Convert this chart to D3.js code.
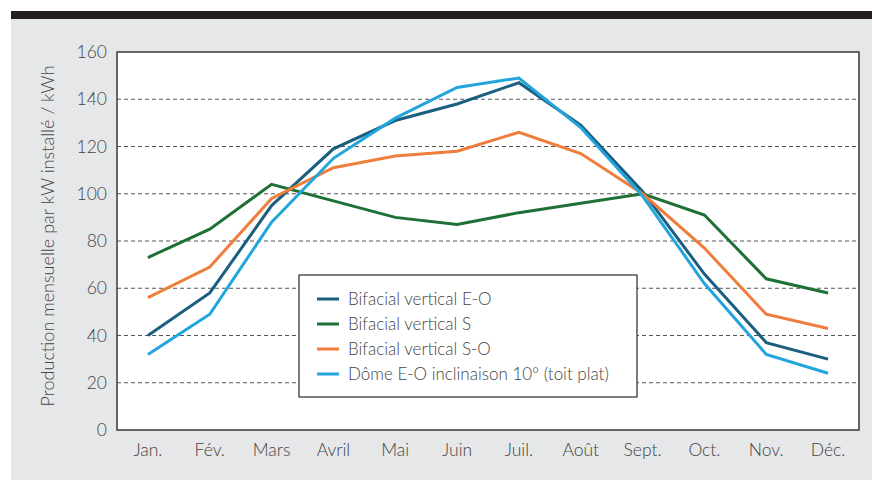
<!DOCTYPE html>
<html>
<head>
<meta charset="utf-8">
<script src="https://cdn.jsdelivr.net/npm/d3@7"></script>
<style>
  body { margin: 0; background: #fff; }
  text { font-family: Lato, "Open Sans", sans-serif; font-weight: 300; fill: #444; }
</style>
</head>
<body>
<script>
///////////////////   Data   /////////////////
var months = ["Jan.", "Fév.", "Mars", "Avril", "Mai", "Juin", "Juil.", "Août", "Sept.", "Oct.", "Nov.", "Déc."];
var seriesNames = ["Bifacial vertical E-O", "Bifacial vertical S", "Bifacial vertical S-O", "Dôme E-O inclinaison 10° (toit plat)"];
var bifacialEO = [40, 58, 95, 119, 131, 138, 147, 129, 101, 66, 37, 30];
var bifacialS  = [73, 85, 104, 97, 90, 87, 92, 96, 100, 91, 64, 58];
var bifacialSO = [56, 69, 98, 111, 116, 118, 126, 117, 100, 77, 49, 43];
var domeEO     = [32, 49, 88, 115, 132, 145, 149, 128, 99, 62, 32, 24];
var yTicks = [0, 20, 40, 60, 80, 100, 120, 140, 160];
var yTitle = "Production mensuelle par kW installé / kWh";

////////////////   Parameters   //////////////
var W = 872, H = 481,
    plot = {left: 117, top: 52, right: 859, bottom: 430},
    colors = ["#1b5f80", "#1e7036", "#ef7d3c", "#22a5dc"];

var svg = d3.select("body").append("svg")
    .attr("width", W)
    .attr("height", H);

// background panel + top bar
svg.append("rect").attr("x", 11).attr("y", 18).attr("width", W - 11).attr("height", H - 19).attr("fill", "#e6e7e8");
svg.append("rect").attr("x", 11).attr("y", 11).attr("width", W - 11).attr("height", 8).attr("fill", "#231f20");

var x = d3.scaleBand().domain(months).range([plot.left, plot.right]);
var y = d3.scaleLinear().domain([0, 160]).range([plot.bottom, plot.top]);

svg.append("rect")
    .attr("x", plot.left).attr("y", plot.top)
    .attr("width", plot.right - plot.left).attr("height", plot.bottom - plot.top)
    .attr("fill", "#fff");

// dashed grid
svg.append("g").selectAll("line")
    .data(yTicks.filter(function(d){ return d > 0 && d < 160; }))
  .enter().append("line")
    .attr("x1", plot.left).attr("x2", plot.right)
    .attr("y1", function(d){ return y(d); }).attr("y2", function(d){ return y(d); })
    .attr("stroke", "#555").attr("stroke-width", 1).attr("stroke-dasharray", "4,3");

// frame
svg.append("rect")
    .attr("x", plot.left).attr("y", plot.top)
    .attr("width", plot.right - plot.left).attr("height", plot.bottom - plot.top)
    .attr("fill", "none").attr("stroke", "#3a3a3a").attr("stroke-width", 1.5);

// axes (labels only)
var yAxis = svg.append("g")
    .attr("transform", "translate(" + plot.left + ",0)")
    .call(d3.axisLeft(y).tickValues(yTicks).tickSize(0).tickPadding(10));
var xAxis = svg.append("g")
    .attr("transform", "translate(0," + plot.bottom + ")")
    .call(d3.axisBottom(x).tickSize(0).tickPadding(14));
[yAxis, xAxis].forEach(function(a){
    a.select(".domain").remove();
    a.selectAll("text").style("font-size", "17.5px").style("font-weight", 300).attr("fill", "#444");
});

svg.append("text")
    .attr("transform", "translate(54,236) rotate(-90)")
    .attr("text-anchor", "middle")
    .style("font-size", "18px")
    .text(yTitle);

// lines
var allSeries = [bifacialEO, bifacialS, bifacialSO, domeEO];
var line = d3.line()
    .x(function(d, i){ return x(months[i]) + x.bandwidth() / 2; })
    .y(function(d){ return y(d); });

svg.append("g").selectAll("path")
    .data(allSeries)
  .enter().append("path")
    .attr("d", line)
    .attr("fill", "none")
    .attr("stroke", function(d, i){ return colors[i]; })
    .attr("stroke-width", 3)
    .attr("stroke-linejoin", "miter");

// legend
var lg = svg.append("g").attr("transform", "translate(299,275)");
lg.append("rect").attr("width", 338).attr("height", 122)
    .attr("fill", "#fff").attr("stroke", "#3a3a3a").attr("stroke-width", 1.3);
var items = lg.selectAll(".item").data(seriesNames)
  .enter().append("g")
    .attr("transform", function(d, i){ return "translate(0," + (24 + i * 25) + ")"; });
items.append("line")
    .attr("x1", 18).attr("x2", 40)
    .attr("stroke", function(d, i){ return colors[i]; })
    .attr("stroke-width", 3);
items.append("text")
    .attr("x", 49).attr("dy", "0.35em")
    .style("font-size", "17px")
    .text(function(d){ return d; });
</script>
</body>
</html>
